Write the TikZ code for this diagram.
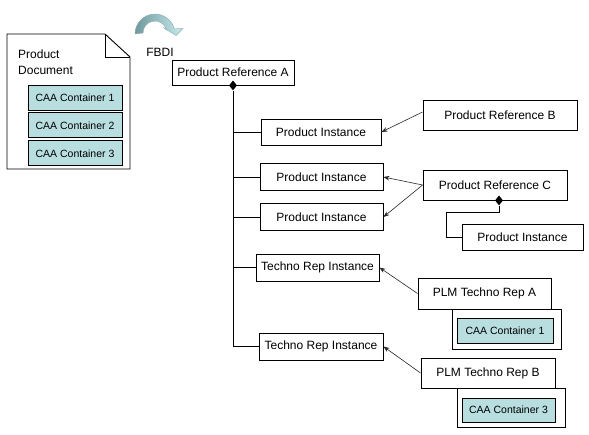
\documentclass[tikz,border=0pt]{standalone}
\usepackage{fontspec}
\setmainfont{Liberation Sans}
\definecolor{caafill}{RGB}{184,222,224}
\definecolor{arcdark}{RGB}{112,152,156}
\definecolor{arclight}{RGB}{200,236,238}
\usetikzlibrary{arrows.meta,positioning,shapes.geometric}

\begin{document}
\begin{tikzpicture}[x=1pt, y=-1pt,
      box/.style={draw, fill=white, line width=0.9pt, inner sep=0pt,
                  font=\fontsize{12}{14}\selectfont, align=center},
      caa/.style={draw, fill=caafill, line width=0.9pt, inner sep=0pt,
                  minimum width=94pt, minimum height=25pt,
                  font=\fontsize{10.5}{12}\selectfont},
      holder/.style={draw, fill=white, line width=0.9pt, inner sep=0pt},
      agg/.style={diamond, fill=black, inner sep=0pt,
                  minimum width=8pt, minimum height=10pt},
      link/.style={line width=0.9pt},
      arr/.style={-{Stealth[length=6pt, width=4.5pt]}, line width=0.6pt, color=black!85}
  ]
    \useasboundingbox (0,0) rectangle (589,434);
    % product document
    \draw[line width=0.9pt, fill=white] (7,34) -- (105,34) -- (130,57) -- (130,169) -- (7,169) -- cycle;
    \draw[line width=0.6pt] (105,34) -- (105,57) -- (130,57);
    \node[anchor=north west, inner sep=0pt, align=left,
          font=\fontsize{12}{16}\selectfont] (doc) at (18,50) {Product\\Document};
    \node[caa] (c1) at (75,97.5) {CAA Container 1};
    \node[caa, below=2pt of c1] (c2) {CAA Container 2};
    \node[caa, below=2pt of c2] (c3) {CAA Container 3};

    % FBDI curved arrow
    \shade[left color=arcdark, right color=arclight, draw=arcdark!80, line width=0.4pt]
      (135,34) arc[start angle=180, end angle=345, radius=20]
      -- (183,28.5) -- (176,35.5) -- (163,27.5) -- (166.6,29.9)
      arc[start angle=345, end angle=180, radius=12] -- cycle;
    \node[font=\fontsize{12}{14}\selectfont] (fbdi) at (160,52) {FBDI};

    % left tree
    \node[box, minimum width=122pt, minimum height=25pt] (refA) at (233,72.5) {Product Reference A};
    \node[box, minimum width=120pt, minimum height=26pt] (pi1) at (321,132) {Product Instance};
    \node[box, minimum width=123pt, minimum height=27pt] (pi2) at (321.5,177) {Product Instance};
    \node[box, minimum width=123pt, minimum height=27pt] (pi3) at (321.5,217) {Product Instance};
    \node[box, minimum width=123pt, minimum height=27pt] (tri1) at (317.5,267.5) {Techno Rep Instance};
    \node[box, minimum width=124pt, minimum height=27pt] (tri2) at (321,346.5) {Techno Rep Instance};
    \node[agg] (dA) at (refA.south) {};
    \draw[link] (dA.south) -- (dA.south |- tri2.west) -- (tri2.west);
    \foreach \n in {pi1,pi2,pi3,tri1}
      \draw[link] (dA.south |- \n.west) -- (\n.west);

    % right side
    \node[box, minimum width=154pt, minimum height=30pt] (refB) at (500,115) {Product Reference B};
    \node[box, minimum width=144pt, minimum height=30pt] (refC) at (495,185) {Product Reference C};
    \node[box, minimum width=121pt, minimum height=26pt] (piC) at (522.5,237) {Product Instance};
    \node[agg] (dC) at ([xshift=4pt]refC.south) {};
    \draw[link] (dC.south) -- ++(0,7) -| ([xshift=-15pt]piC.west) -- (piC.west);

    \node[holder, minimum width=109pt, minimum height=40pt] (holdA) at (506.5,329) {};
    \node[box, minimum width=133pt, minimum height=31pt] (plmA) at (484.5,293.5) {PLM Techno Rep A};
    \node[caa, minimum width=96pt] (caaA) at (505,330.5) {CAA Container 1};
    \node[holder, minimum width=108pt, minimum height=39pt] (holdB) at (511,407.5) {};
    \node[box, minimum width=134pt, minimum height=30pt] (plmB) at (488,373) {PLM Techno Rep B};
    \node[caa, minimum width=93pt, minimum height=24pt] (caaB) at (508.5,410) {CAA Container 3};

    % references
    \draw[arr] ([yshift=3pt]refB.west) -- (pi1.east);
    \draw[arr] (refC.west) -- (pi2.east);
    \draw[arr] (refC.west) -- (pi3.east);
    \draw[arr] (plmA.west) -- (tri1.east);
    \draw[arr] (plmB.west) -- (tri2.east);
  \end{tikzpicture}
\end{document}
